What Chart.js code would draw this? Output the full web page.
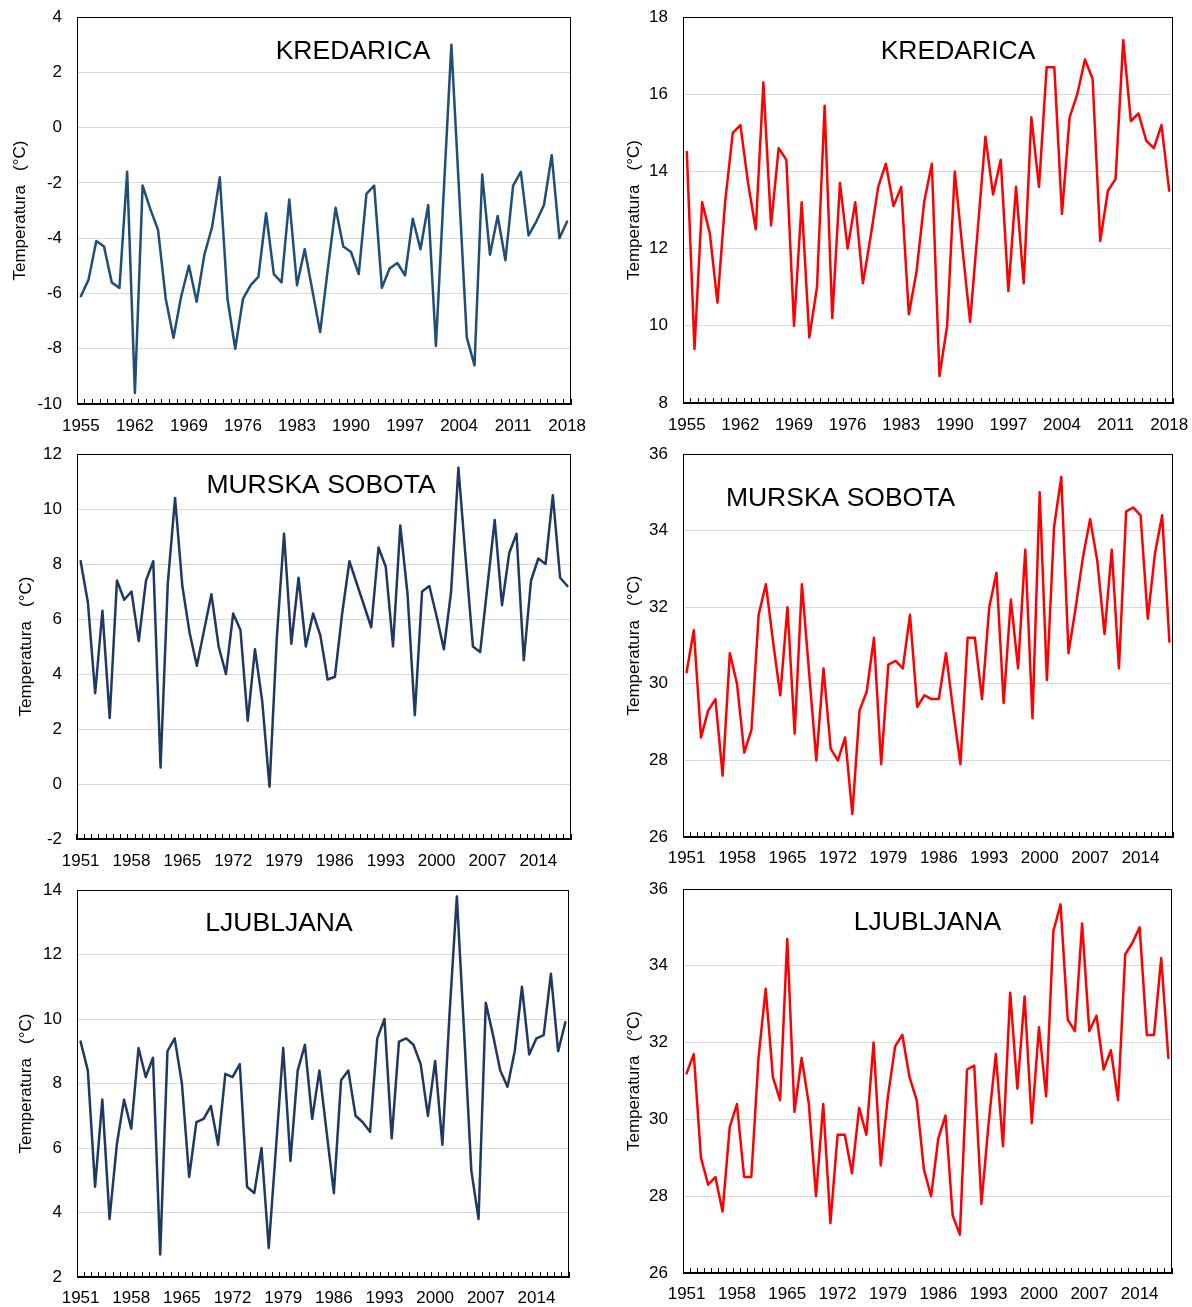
<!DOCTYPE html>
<html>
<head>
<meta charset="utf-8">
<script src="https://cdn.jsdelivr.net/npm/chart.js@4.4.1/dist/chart.umd.min.js"></script>
<style>
html,body{margin:0;padding:0;background:#fff;}
body{width:1192px;height:1307px;position:relative;overflow:hidden;}
canvas{position:absolute;}
</style>
</head>
<body>
<canvas id="c1" width="596" height="436" style="left:0px;top:0px"></canvas>
<canvas id="c2" width="596" height="436" style="left:596px;top:0px"></canvas>
<canvas id="c3" width="596" height="436" style="left:0px;top:436px"></canvas>
<canvas id="c4" width="596" height="436" style="left:596px;top:436px"></canvas>
<canvas id="c5" width="596" height="435" style="left:0px;top:872px"></canvas>
<canvas id="c6" width="596" height="435" style="left:596px;top:872px"></canvas>
<script>
// ---- categories ----
const yearsKredarica = ["1955","1956","1957","1958","1959","1960","1961","1962","1963","1964","1965","1966","1967","1968","1969","1970","1971","1972","1973","1974","1975","1976","1977","1978","1979","1980","1981","1982","1983","1984","1985","1986","1987","1988","1989","1990","1991","1992","1993","1994","1995","1996","1997","1998","1999","2000","2001","2002","2003","2004","2005","2006","2007","2008","2009","2010","2011","2012","2013","2014","2015","2016","2017","2018"];
const years1951 = ["1951","1952","1953","1954","1955","1956","1957","1958","1959","1960","1961","1962","1963","1964","1965","1966","1967","1968","1969","1970","1971","1972","1973","1974","1975","1976","1977","1978","1979","1980","1981","1982","1983","1984","1985","1986","1987","1988","1989","1990","1991","1992","1993","1994","1995","1996","1997","1998","1999","2000","2001","2002","2003","2004","2005","2006","2007","2008","2009","2010","2011","2012","2013","2014","2015","2016","2017","2018"];

// ---- series values (°C) ----
const kredaricaMin = [-6.1,-5.5,-4.1,-4.3,-5.6,-5.8,-1.6,-9.6,-2.1,-2.95,-3.7,-6.2,-7.6,-6.1,-5.0,-6.3,-4.6,-3.6,-1.8,-6.2,-8.0,-6.2,-5.7,-5.4,-3.1,-5.3,-5.6,-2.6,-5.7,-4.4,-5.9,-7.4,-5.1,-2.9,-4.3,-4.5,-5.3,-2.4,-2.1,-5.8,-5.1,-4.9,-5.35,-3.3,-4.4,-2.8,-7.9,-2.4,3.0,-2.3,-7.6,-8.6,-1.7,-4.6,-3.2,-4.8,-2.1,-1.6,-3.9,-3.4,-2.8,-1.0,-4.0,-3.4];
const kredaricaMax = [14.5,9.4,13.2,12.4,10.6,13.2,15.0,15.2,13.7,12.5,16.3,12.6,14.6,14.3,10.0,13.2,9.7,11.0,15.7,10.2,13.7,12.0,13.2,11.1,12.3,13.6,14.2,13.1,13.6,10.3,11.4,13.2,14.2,8.7,10.0,14.0,12.0,10.1,12.5,14.9,13.4,14.3,10.9,13.6,11.1,15.4,13.6,16.7,16.7,12.9,15.4,16.0,16.9,16.4,12.2,13.5,13.8,17.4,15.3,15.5,14.8,14.6,15.2,13.5];
const murskaMin = [8.1,6.6,3.3,6.3,2.4,7.4,6.7,7.0,5.2,7.4,8.1,0.6,7.3,10.4,7.2,5.5,4.3,5.6,6.9,5.0,4.0,6.2,5.6,2.3,4.9,3.0,-0.1,5.3,9.1,5.1,7.5,5.0,6.2,5.4,3.8,3.9,6.2,8.1,7.3,6.5,5.7,8.6,7.9,5.0,9.4,6.9,2.5,7.0,7.2,6.1,4.9,7.0,11.5,8.2,5.0,4.8,7.2,9.6,6.5,8.4,9.1,4.5,7.4,8.2,8.0,10.5,7.5,7.2];
const murskaMax = [30.3,31.4,28.6,29.3,29.6,27.6,30.8,30.0,28.2,28.8,31.8,32.6,31.1,29.7,32.0,28.7,32.6,30.3,28.0,30.4,28.3,28.0,28.6,26.6,29.3,29.8,31.2,27.9,30.5,30.6,30.4,31.8,29.4,29.7,29.6,29.6,30.8,29.3,27.9,31.2,31.2,29.6,32.0,32.9,29.5,32.2,30.4,33.5,29.1,35.0,30.1,34.1,35.4,30.8,32.0,33.3,34.3,33.2,31.3,33.5,30.4,34.5,34.6,34.4,31.7,33.4,34.4,31.1];
const ljubljanaMin = [9.3,8.4,4.8,7.5,3.8,6.1,7.5,6.6,9.1,8.2,8.8,2.7,9.0,9.4,8.0,5.1,6.8,6.9,7.3,6.1,8.3,8.2,8.6,4.8,4.6,6.0,2.9,6.0,9.1,5.6,8.4,9.2,6.9,8.4,6.5,4.6,8.1,8.4,7.0,6.8,6.5,9.4,10.0,6.3,9.3,9.4,9.2,8.6,7.0,8.7,6.1,10.2,13.8,9.6,5.3,3.8,10.5,9.5,8.4,7.9,9.0,11.0,8.9,9.4,9.5,11.4,9.0,9.9];
const ljubljanaMax = [31.2,31.7,29.0,28.3,28.5,27.6,29.8,30.4,28.5,28.5,31.6,33.4,31.1,30.5,34.7,30.2,31.6,30.4,28.0,30.4,27.3,29.6,29.6,28.6,30.3,29.6,32.0,28.8,30.6,31.9,32.2,31.1,30.5,28.7,28.0,29.5,30.1,27.5,27.0,31.3,31.4,27.8,29.9,31.7,29.3,33.3,30.8,33.2,29.9,32.4,30.6,34.9,35.6,32.6,32.3,35.1,32.3,32.7,31.3,31.8,30.5,34.3,34.6,35.0,32.2,32.2,34.2,31.6];

// ---- tick/axis texts ----
const titles = ["KREDARICA","KREDARICA","MURSKA SOBOTA","MURSKA SOBOTA","LJUBLJANA","LJUBLJANA"];
const yAxisTitle = "Temperatura   (\u00B0C)";
const yRanges = [[-10,4],[8,18],[-2,12],[26,36],[2,14],[26,36]];
const labelEvery = 7;

Chart.defaults.font.family = '"Liberation Sans", Arial, Helvetica, sans-serif';
Chart.defaults.color = '#000';

const decor = {
  id: 'panelDecor',
  beforeDatasetsDraw(chart) {
    const {ctx, chartArea: a} = chart;
    ctx.save();
    ctx.strokeStyle = '#000';
    ctx.lineWidth = 1;
    const l = Math.round(a.left) + 0.5, t = Math.round(a.top) + 0.5;
    const r = Math.round(a.right) - 0.5, b = Math.round(a.bottom) - 0.5;
    ctx.strokeRect(l, t, r - l, b - t);
    ctx.restore();
  },
  afterDraw(chart, args, opts) {
    const {ctx} = chart;
    ctx.save();
    ctx.fillStyle = '#000';
    ctx.font = '26.5px "Liberation Sans", Arial, sans-serif';
    ctx.textAlign = 'center';
    ctx.textBaseline = 'alphabetic';
    ctx.fillText(opts.text, opts.x, opts.y);
    ctx.restore();
  }
};

function zeroPad(s) { s.paddingLeft = 0; s.paddingRight = 0; s.paddingTop = 0; s.paddingBottom = 0; }

const panels = [
  {id:'c1', labels: yearsKredarica, values: kredaricaMin, color:'#1f4e79', padTop:17, padRight:25, yW:77, xH:32, xPad:17, ytPad:10, tx:353, ty:58.5},
  {id:'c2', labels: yearsKredarica, values: kredaricaMax, color:'#ff0000', padTop:17, padRight:19, yW:87, xH:33, xPad:17, ytPad:28, tx:362, ty:58.5},
  {id:'c3', labels: years1951, values: murskaMin, color:'#203864', padTop:18, padRight:25, yW:77, xH:33, xPad:17.5, ytPad:16, tx:321, ty:57},
  {id:'c4', labels: years1951, values: murskaMax, color:'#ff0000', padTop:18, padRight:19, yW:87, xH:35, xPad:16, ytPad:28, tx:244.5, ty:70},
  {id:'c5', labels: years1951, values: ljubljanaMin, color:'#203864', padTop:18, padRight:27, yW:77, xH:30, xPad:16, ytPad:16, tx:279, ty:58.7},
  {id:'c6', labels: years1951, values: ljubljanaMax, color:'#ff0000', padTop:17, padRight:20, yW:87, xH:34, xPad:16, ytPad:28, tx:331.5, ty:58}
];

panels.forEach((p, k) => {
  const ctx = document.getElementById(p.id).getContext('2d');
  new Chart(ctx, {
    type: 'line',
    data: {
      labels: p.labels,
      datasets: [{
        data: p.values,
        borderColor: p.color,
        borderWidth: 2.5,
        pointRadius: 0,
        pointHoverRadius: 0,
        pointBorderWidth: 0,
        tension: 0,
        fill: false,
        borderJoinStyle: 'round',
        borderCapStyle: 'round'
      }]
    },
    options: {
      responsive: false,
      animation: false,
      events: [],
      layout: { padding: { left: 0, top: p.padTop, right: p.padRight, bottom: 0 } },
      plugins: {
        legend: { display: false },
        tooltip: { enabled: false },
        title: { display: false },
        panelDecor: { text: titles[k], x: p.tx, y: p.ty }
      },
      scales: {
        x: {
          type: 'category',
          offset: true,
          grid: { display: true, drawOnChartArea: false, drawTicks: true, tickLength: -5, offset: true, color: '#000', tickColor: '#000', tickWidth: 1 },
          border: { display: true, color: '#000', width: 1 },
          ticks: {
            autoSkip: false, maxRotation: 0, minRotation: 0,
            padding: p.xPad, color: '#000', font: { size: 17 },
            callback: function (v, i) { return i % labelEvery === 0 ? this.getLabelForValue(v) : ''; }
          },
          afterFit: s => { s.height = p.xH; zeroPad(s); }
        },
        y: {
          min: yRanges[k][0],
          max: yRanges[k][1],
          ticks: { stepSize: 2, padding: 15, color: '#000', font: { size: 17 } },
          grid: { color: '#d9d9d9', drawTicks: false, lineWidth: 1 },
          border: { display: true, color: '#000', width: 1 },
          title: { display: true, text: yAxisTitle, color: '#000', font: { size: 17 }, padding: { top: p.ytPad, bottom: 0 } },
          afterFit: s => { s.width = p.yW; zeroPad(s); }
        }
      }
    },
    plugins: [decor]
  });
});
</script>
</body>
</html>
